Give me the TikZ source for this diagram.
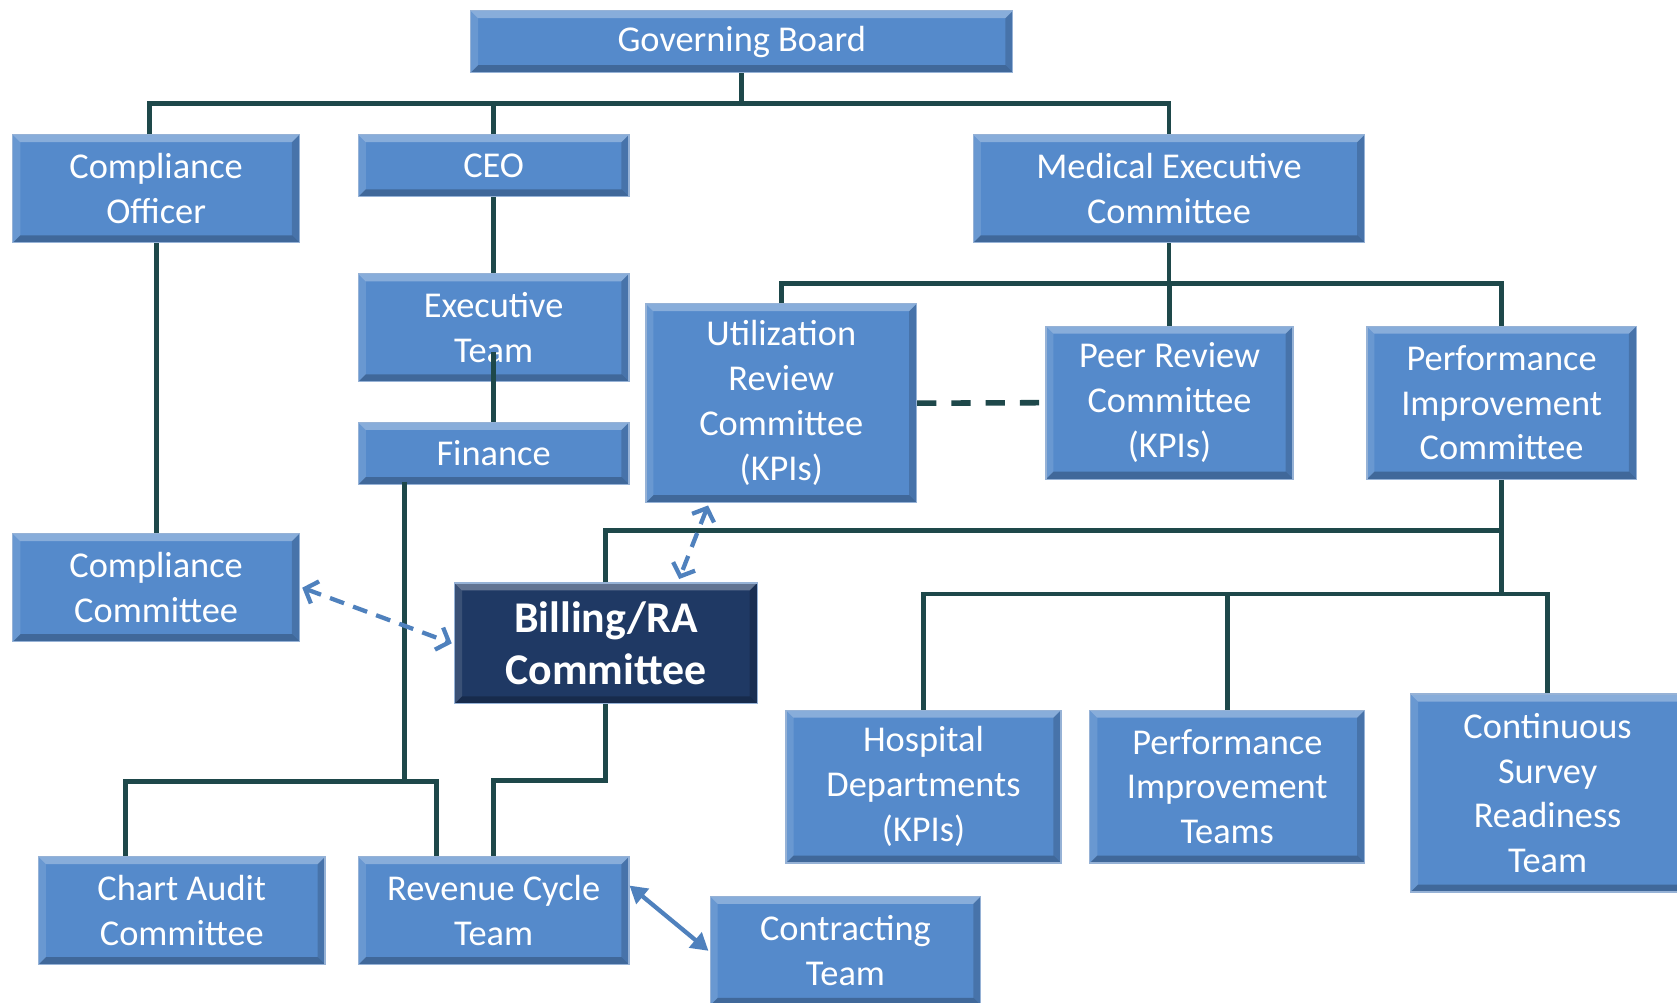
\documentclass[tikz,border=0pt]{standalone}
\usepackage{fontspec}
\setmainfont{Carlito}
\usetikzlibrary{arrows.meta,calc}

\definecolor{boxblue}{RGB}{85,138,203}
\definecolor{boxnavy}{RGB}{31,57,100}
\definecolor{linkteal}{RGB}{30,72,74}
\definecolor{arrowblue}{RGB}{79,129,189}
\definecolor{edgeblue}{RGB}{150,178,214}

\tikzset{
  bevel/.style={path picture={
    \path (path picture bounding box.south west) coordinate (bl)
          (path picture bounding box.north east) coordinate (tr)
          (bl |- tr) coordinate (tl)
          (tr |- bl) coordinate (br);
    \fill[white,opacity=.30] (tl) -- (tr) -- ($(tr)+(-3.5pt,-3.5pt)$) -- ($(tl)+(3.5pt,-3.5pt)$) -- cycle;
    \fill[white,opacity=.12] (tl) -- ($(tl)+(3.5pt,-3.5pt)$) -- ($(bl)+(3.5pt,3.5pt)$) -- (bl) -- cycle;
    \fill[black,opacity=.16] (tr) -- (br) -- ($(br)+(-3.5pt,3.5pt)$) -- ($(tr)+(-3.5pt,-3.5pt)$) -- cycle;
    \fill[black,opacity=.24] (bl) -- (br) -- ($(br)+(-3.5pt,3.5pt)$) -- ($(bl)+(3.5pt,3.5pt)$) -- cycle;
  }},
  box/.style 2 args={draw=edgeblue, line width=0.6pt, fill=boxblue, bevel,
    text=white, align=center, inner sep=0pt,
    font=\fontsize{17}{21}\selectfont,
    minimum width=#1*0.5pt, minimum height=#2*0.5pt},
  keybox/.style 2 args={box={#1}{#2}, fill=boxnavy,
    font=\fontsize{20.5}{24.5}\selectfont\bfseries},
  conn/.style={draw=linkteal, line width=2.3pt},
  peerlink/.style={draw=linkteal, line width=2.6pt, dash pattern=on 9pt off 7pt},
  dashlink/.style={draw=arrowblue, line width=2pt, dash pattern=on 7pt off 4.5pt,
    {Straight Barb[length=5pt,width=11pt,line width=2pt]}-{Straight Barb[length=5pt,width=11pt,line width=2pt]}},
  solidlink/.style={draw=arrowblue, line width=2pt,
    {Triangle[length=8pt,width=9pt]}-{Triangle[length=8pt,width=9pt]}},
}

\begin{document}
\begin{tikzpicture}[x=0.5pt,y=-0.5pt]
  \useasboundingbox (0,0) rectangle (1568,937);
  \clip (0,0) rectangle (1568,937);
  \fill[white] (0,0) rectangle (1568,937);

  % boxes
  \node[box={507}{58}]  (gb)   at (693.5,39)    {Governing Board};
  \node[box={268}{101}] (co)   at (146,176.5)   {Compliance\\Officer};
  \node[box={253}{58}]  (ceo)  at (461.5,155)   {CEO};
  \node[box={366}{101}] (mec)  at (1093,176.5)  {Medical Executive\\Committee};
  \node[box={253}{101}] (et)   at (461.5,306.5) {Executive\\Team};
  \node[box={253}{58}]  (fin)  at (461.5,424)   {Finance};
  \node[box={253}{186}] (urc)  at (730.5,377)   {Utilization\\Review\\Committee\\(KPIs)};
  \node[box={231}{143}] (prc)  at (1093.5,376.5){Peer Review\\Committee\\(KPIs)};
  \node[box={252}{143}] (pic)  at (1404,376.5)  {Performance\\Improvement\\Committee};
  \node[box={268}{101}] (cc)   at (146,549.5)   {Compliance\\Committee};
  \node[keybox={283}{113}] (bill) at (566.5,601.5) {Billing/RA\\Committee};
  \node[box={257}{143}] (hd)   at (863.5,735.5) {Hospital\\Departments\\(KPIs)};
  \node[box={257}{143}] (pit)  at (1147.5,735.5){Performance\\Improvement\\Teams};
  \node[box={256}{185}] (csr)  at (1447,741.5)  {Continuous\\Survey\\Readiness\\Team};
  \node[box={268}{101}] (cat)  at (170,851.5)   {Chart Audit\\Committee};
  \node[box={253}{101}] (rct)  at (461.5,851.5) {Revenue Cycle\\Team};
  \node[box={253}{102}] (ct)   at (790.5,889)   {Contracting\\Team};

  % reporting lines
  \draw[conn] (gb.south) -- ++(0,29);
  \draw[conn] ([xshift=-3pt]co.north) -- ++(0,-29) -| (mec.north);
  \draw[conn] (ceo.north) -- ++(0,-29);
  \draw[conn] (ceo.south) -- (et.north);
  \draw[conn] (fin.north) -- ++(0,-65);
  \draw[conn] (co.south) -- (cc.north);

  \coordinate (finjoin) at (378,731);
  \draw[conn] ([xshift=-41.75pt,yshift=1.5pt]fin.south) -- (finjoin);
  \draw[conn] ([xshift=-26.5pt]cat.north) -- ++(0,-70) -| ([xshift=-26.75pt]rct.north);
  \draw[conn] (bill.south) -- ++(0,71) -| (rct.north);

  \draw[conn] (mec.south) -- ++(0,39);
  \draw[conn] (urc.north) -- ++(0,-18) -| (pic.north);
  \draw[conn] (prc.north) -- ++(0,-39);
  \draw[peerlink] (urc.east) -- (prc.west);

  \coordinate (picjoin) at (1404,496);
  \draw[conn] (pic.south) -- ++(0,108);
  \draw[conn] (bill.north) |- (picjoin);
  \draw[conn] (hd.north) -- ++(0,-108) -| (csr.north);
  \draw[conn] (pit.north) -- ++(0,-108);

  % two-way links
  \draw[dashlink] ([xshift=1pt]cc.east) -- ([xshift=-1pt]bill.west);
  \draw[dashlink] ([xshift=-34.25pt,yshift=-1pt]urc.south) -- ([xshift=34.25pt,yshift=1.5pt]bill.north);
  \draw[solidlink] ([yshift=11.75pt]rct.east) -- ([xshift=-0.5pt]ct.west);
\end{tikzpicture}
\end{document}
